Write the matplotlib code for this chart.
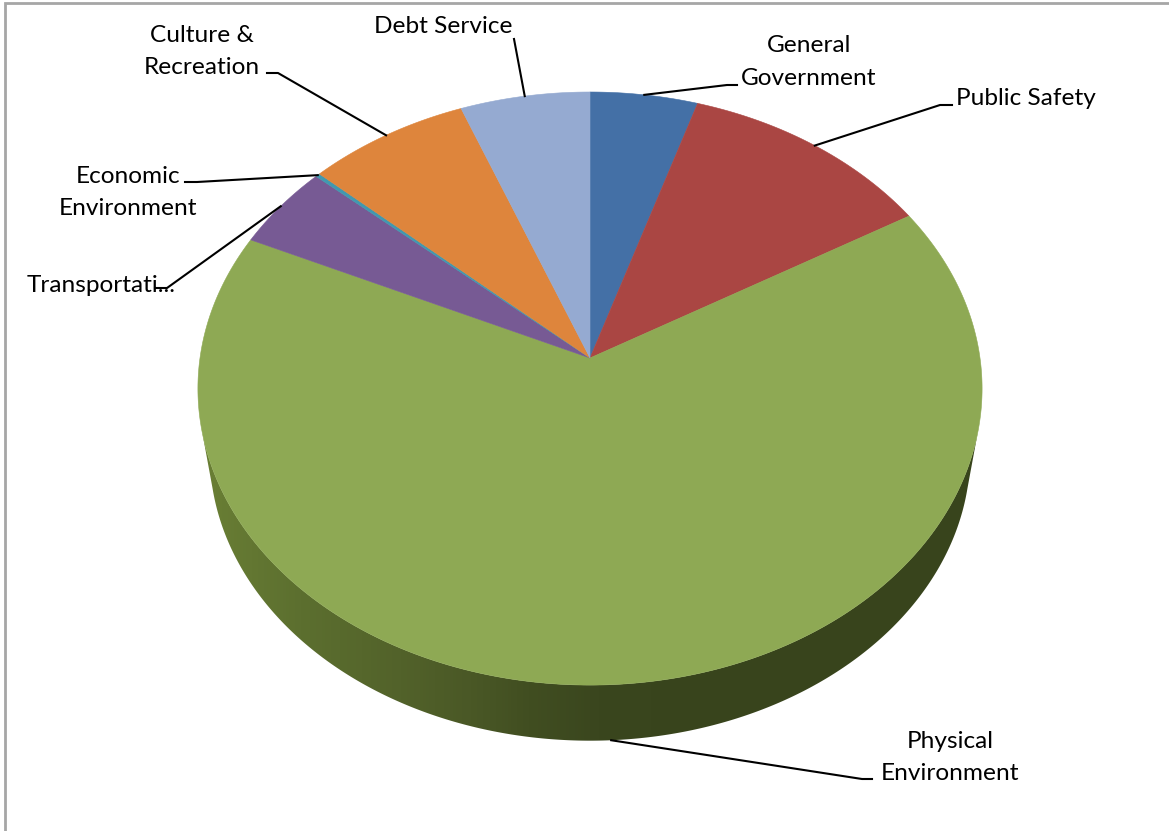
import numpy as np
import matplotlib
matplotlib.use('Agg')
from matplotlib import pyplot as plt
from matplotlib.colors import LinearSegmentedColormap

# share of spending per category (percent), clockwise from 12 o'clock
categories = ['General Government', 'Public Safety', 'Physical Environment', 'Transportation',
              'Economic Environment', 'Culture & Recreation', 'Debt Service']
shares = [4.9, 11.6, 65.4, 4.6, 0.2, 7.4, 5.9]
slice_colors = ['#4470a6', '#aa4643', '#8ea954', '#775a94', '#4198af', '#de853c', '#95aad1']

# label text, split into lines, with x / baseline y in pixels
label_lines = [
    [('General', 809, 52), ('Government', 809, 85)],
    [('Public Safety', 1026, 105)],
    [('Physical', 950, 748), ('Environment', 950, 780)],
    [('Transportati...', 101, 292)],
    [('Economic', 128, 183), ('Environment', 128, 215)],
    [('Culture &', 202, 42), ('Recreation', 202, 74)],
    [('Debt Service', 443, 33)],
]
# leader line points after the anchor on the slice edge
leader_elbows = [
    [(727, 85), (737, 85)],
    [(940, 105), (952, 105)],
    [(862, 779), (872, 779)],
    [(167, 288), (155, 288)],
    [(197, 182), (185, 182)],
    [(278, 73), (267, 73)],
    [(514, 39)],
]

# pie geometry, in pixels
cx, cy = 590, 358
rx, ry = 390, 293.4
persp = 0.103
base_scale, base_drop = 0.97, 65.4


def rim(theta, scale=1.0, drop=0.0):
    # perspective view of a tilted disc, theta clockwise from the back
    d = 1 + persp * np.cos(theta)
    x = cx + scale * rx * np.sin(theta) / d
    y = cy + drop - scale * ry * np.cos(theta) / d
    return x, y


plt.rcParams['font.family'] = ['Lato', 'DejaVu Sans']
fig = plt.figure(figsize=(11.69, 8.31), dpi=100)
ax = fig.add_axes([0, 0, 1, 1])
ax.set_xlim(0, 1169)
ax.set_ylim(831, 0)
ax.axis('off')

# outer frame, only top and left show
ax.plot([5, 5, 1169], [831, 3, 3], color='#a6a6a6', lw=2, solid_joinstyle='miter')

fracs = np.array(shares) / np.sum(shares)
edges = np.concatenate([[0], np.cumsum(fracs)]) * 2 * np.pi

# side wall of the disc, a left to right gradient clipped to the wall outline
wall_cmap = LinearSegmentedColormap.from_list(
    'wall', [(0, '#6a7f35'), (0.128, '#5c6f2f'), (0.256, '#52622a'), (0.346, '#4a5826'),
             (0.423, '#414e21'), (0.513, '#3a461e'), (0.64, '#38441c'), (1, '#38441c')])
wall_t = np.linspace(np.radians(103), np.radians(257), 361)
top_x, top_y = rim(wall_t)
low_x, low_y = rim(wall_t, base_scale, base_drop)
wall_outline = ax.fill(np.r_[top_x, low_x[::-1]], np.r_[top_y, low_y[::-1]], color='none', lw=0, zorder=1)[0]
ramp = np.linspace(0, 1, 780).reshape(1, -1)
wall = ax.imshow(ramp, cmap=wall_cmap, extent=[200, 980, 760, 380], aspect='auto', zorder=1)
wall.set_clip_path(wall_outline)
ax.set_xlim(0, 1169)
ax.set_ylim(831, 0)

# top face
for start, stop, col in zip(edges[:-1], edges[1:], slice_colors):
    t = np.linspace(start, stop, max(int((stop - start) * 120), 3))
    xs, ys = rim(t)
    ax.fill(np.r_[cx, xs], np.r_[cy, ys], color=col, lw=0.4, zorder=2)

# leaders, from the middle of each slice edge
mids = 0.5 * (edges[:-1] + edges[1:])
for i, elbows in enumerate(leader_elbows):
    if categories[i] == 'Physical Environment':
        # this one leaves from the lower rim
        start_pt = rim(mids[i], base_scale, base_drop)
    else:
        start_pt = rim(mids[i])
    ax.plot(*zip(*([start_pt] + elbows)), color='black', lw=1.5, zorder=4)

for lines in label_lines:
    for text, x, y in lines:
        ax.text(x, y, text, ha='center', va='baseline', fontsize=17.6, color='black', zorder=3)

fig.savefig('out.png', dpi=100)
